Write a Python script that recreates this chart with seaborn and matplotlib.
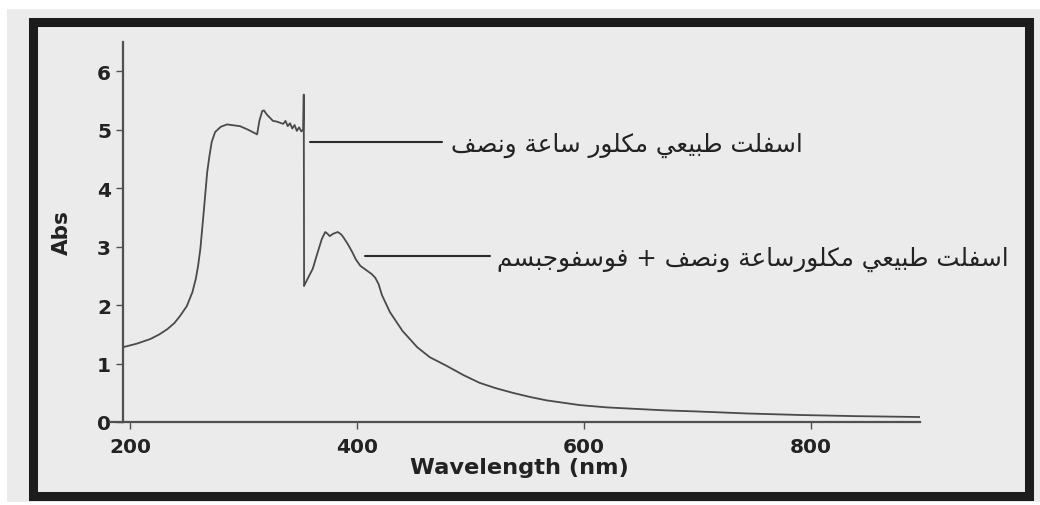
import matplotlib
matplotlib.use("Agg")
import matplotlib.pyplot as plt
from matplotlib.patches import Rectangle
import seaborn as sns
import pandas as pd

# UV-Vis absorbance spectra
wl_chlorinated = [194, 206, 218, 226, 233, 239, 244, 250, 255, 258, 260, 262, 265, 268,
                  270, 272, 275, 280, 285.5, 297, 304, 312, 314, 316.5, 318, 320.5, 323,
                  326, 329, 332, 335, 337, 339, 341, 343, 345, 347, 349, 351, 352.6,
                  353.1, 353.4]
abs_chlorinated = [1.28, 1.34, 1.42, 1.50, 1.59, 1.69, 1.81, 1.98, 2.22, 2.45, 2.67, 2.96,
                   3.60, 4.27, 4.55, 4.79, 4.96, 5.05, 5.09, 5.06, 5.00, 4.92, 5.15, 5.32,
                   5.33, 5.26, 5.21, 5.15, 5.14, 5.12, 5.10, 5.15, 5.06, 5.11, 5.02, 5.08,
                   4.98, 5.04, 4.97, 5.00, 5.60, 2.33]

wl_phospho = [353.4, 357, 361, 365, 369, 372, 374, 376, 379, 383, 386, 388, 392, 396, 399,
              403, 408, 413, 416, 419, 422, 429, 440, 453, 464, 479, 494, 508, 522, 537,
              552, 567, 596, 620, 640, 670, 700, 745, 790, 840, 896]
abs_phospho = [2.33, 2.47, 2.62, 2.88, 3.13, 3.25, 3.22, 3.18, 3.22, 3.25, 3.21, 3.16, 3.04,
               2.90, 2.78, 2.67, 2.60, 2.53, 2.47, 2.36, 2.17, 1.88, 1.56, 1.28, 1.11, 0.96,
               0.80, 0.67, 0.58, 0.50, 0.43, 0.37, 0.29, 0.25, 0.23, 0.20, 0.18, 0.145,
               0.12, 0.10, 0.085]

x_ticks = [200, 400, 600, 800]
y_ticks = [0, 1, 2, 3, 4, 5, 6]

label_chlorinated = "اسفلت طبيعي مكلور ساعة ونصف"
label_phospho = "اسفلت طبيعي مكلورساعة ونصف + فوسفوجبسم"

# Arabic presentation forms: (isolated, final, initial, medial)
FORMS = {
    "ا": ("\uFE8D", "\uFE8E", None, None),
    "ب": ("\uFE8F", "\uFE90", "\uFE91", "\uFE92"),
    "ة": ("\uFE93", "\uFE94", None, None),
    "ت": ("\uFE95", "\uFE96", "\uFE97", "\uFE98"),
    "ج": ("\uFE9D", "\uFE9E", "\uFE9F", "\uFEA0"),
    "ر": ("\uFEAD", "\uFEAE", None, None),
    "س": ("\uFEB1", "\uFEB2", "\uFEB3", "\uFEB4"),
    "ص": ("\uFEB9", "\uFEBA", "\uFEBB", "\uFEBC"),
    "ط": ("\uFEC1", "\uFEC2", "\uFEC3", "\uFEC4"),
    "ع": ("\uFEC9", "\uFECA", "\uFECB", "\uFECC"),
    "ف": ("\uFED1", "\uFED2", "\uFED3", "\uFED4"),
    "ك": ("\uFED9", "\uFEDA", "\uFEDB", "\uFEDC"),
    "ل": ("\uFEDD", "\uFEDE", "\uFEDF", "\uFEE0"),
    "م": ("\uFEE1", "\uFEE2", "\uFEE3", "\uFEE4"),
    "ن": ("\uFEE5", "\uFEE6", "\uFEE7", "\uFEE8"),
    "و": ("\uFEED", "\uFEEE", None, None),
    "ي": ("\uFEF1", "\uFEF2", "\uFEF3", "\uFEF4"),
}


def shape_arabic(s):
    """Join Arabic letters into contextual forms and lay them out right to left."""
    out = []
    for i, ch in enumerate(s):
        if ch not in FORMS:
            out.append(ch)
            continue
        prev = s[i - 1] if i > 0 else ""
        nxt = s[i + 1] if i + 1 < len(s) else ""
        joins_prev = prev in FORMS and FORMS[prev][2] is not None
        joins_next = FORMS[ch][2] is not None and nxt in FORMS
        iso, fin, ini, med = FORMS[ch]
        if joins_prev and joins_next:
            out.append(med)
        elif joins_prev:
            out.append(fin)
        elif joins_next:
            out.append(ini)
        else:
            out.append(iso)
    return "".join(reversed(out))


sns.set_theme(style="ticks")
plt.rcParams["font.family"] = ["DejaVu Sans"]

W, H = 1040, 506
fig = plt.figure(figsize=(W / 100, H / 100), dpi=100, facecolor="white")

paper = "#ebebeb"
ink = "#1c1c1c"
# scanned page and its heavy border
fig.patches.append(Rectangle((7 / W, 1 - 503 / H), (W - 7) / W, (503 - 10) / H,
                             transform=fig.transFigure, facecolor=paper,
                             edgecolor="none", zorder=0))
fig.patches.append(Rectangle((33 / W, 1 - 496.5 / H), (1029 - 33) / W, (496.5 - 22.5) / H,
                             transform=fig.transFigure, facecolor="none",
                             edgecolor=ink, linewidth=6.5, zorder=1))

ax = fig.add_axes([110 / W, 1 - 423 / H, 810 / W, 380 / H])
ax.set_zorder(5)
ax.set_facecolor("none")

df1 = pd.DataFrame({"wl": wl_chlorinated, "abs": abs_chlorinated})
df2 = pd.DataFrame({"wl": wl_phospho, "abs": abs_phospho})
curve_color = "#4a4a4a"
sns.lineplot(data=df1, x="wl", y="abs", sort=False, estimator=None, ax=ax,
             color=curve_color, linewidth=1.3)
sns.lineplot(data=df2, x="wl", y="abs", sort=False, estimator=None, ax=ax,
             color=curve_color, linewidth=1.3)

ax.set_xlim(182.4, 896)
ax.set_ylim(0, 6.5)
ax.spines["top"].set_visible(False)
ax.spines["right"].set_visible(False)
ax.spines["left"].set_position(("data", 193.8))
for side in ("left", "bottom"):
    ax.spines[side].set_color("#505050")
    ax.spines[side].set_linewidth(1.6)

ax.set_xticks(x_ticks)
ax.set_yticks(y_ticks)
ax.tick_params(axis="both", colors="#505050", width=1.0, length=5,
               labelcolor="#222222", labelsize=14.5)
ax.tick_params(axis="x", pad=5.5)
ax.tick_params(axis="y", pad=3.5)
for lab in ax.get_xticklabels() + ax.get_yticklabels():
    lab.set_fontweight("bold")

ax.set_xlabel("Wavelength (nm)", fontsize=16.2, fontweight="bold", color="#222222")
ax.set_ylabel("Abs", fontsize=15.5, fontweight="bold", color="#222222")
ax.xaxis.set_label_coords(0.505, -0.093)
ax.yaxis.set_label_coords(-0.047, 0.5)

# leader lines and curve labels
lead = "#2a2a2a"
ax.plot([358.6, 474.9], [4.79, 4.79], color=lead, linewidth=1.5, clip_on=False)
ax.text(483.0, 4.75, shape_arabic(label_chlorinated), ha="left", va="center",
        fontsize=17.7, color="#222222", family=["DejaVu Sans"])
ax.plot([407, 517], [2.84, 2.84], color=lead, linewidth=1.5, clip_on=False)
ax.text(523, 2.80, shape_arabic(label_phospho), ha="left", va="center",
        fontsize=17.7, color="#222222", family=["DejaVu Sans"])

fig.savefig("out.png", dpi=100, facecolor=fig.get_facecolor())
